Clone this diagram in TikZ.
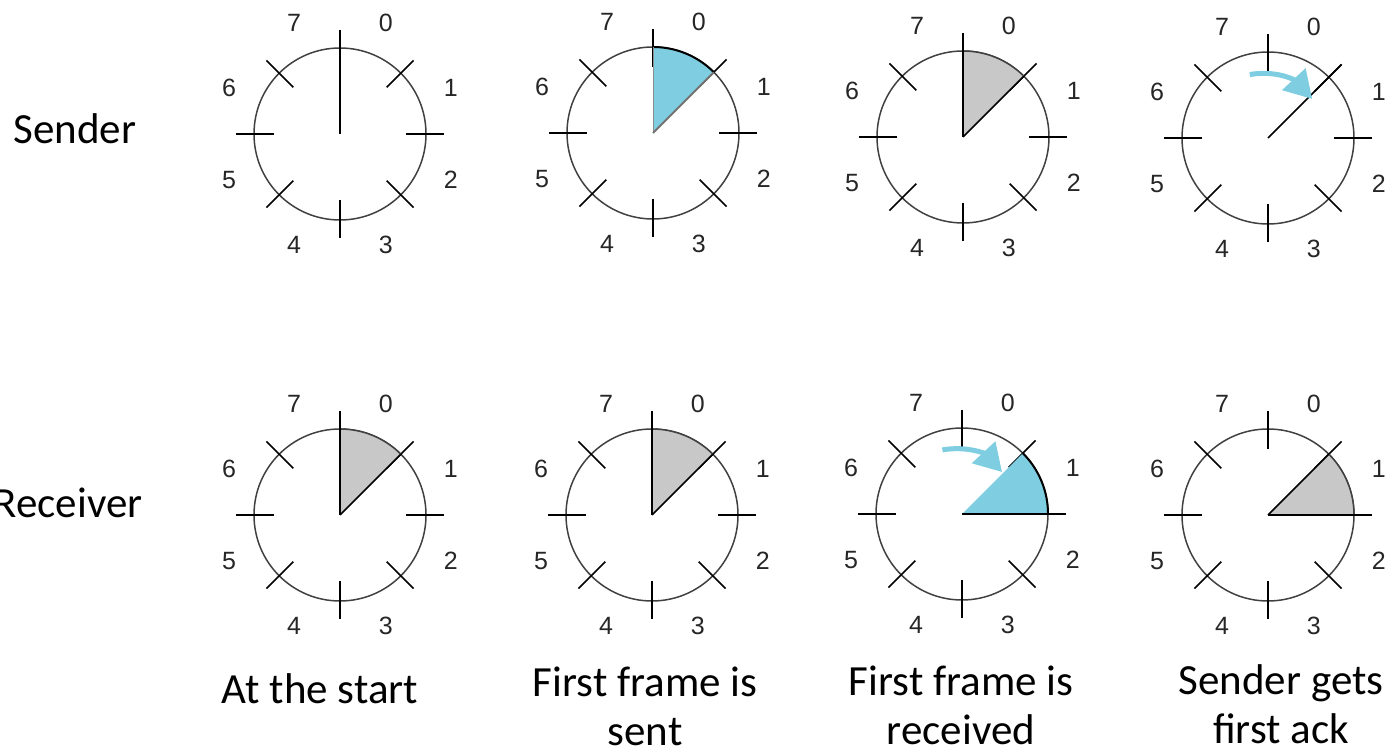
\documentclass[tikz,border=0pt]{standalone}
\usepackage{fontspec}
\setmainfont{Carlito}
\newfontfamily\digitfont{Liberation Sans}
\usetikzlibrary{calc}
\usepgflibrary{arrows.meta}
\definecolor{frameblue}{RGB}{126,205,225}
\definecolor{windowgray}{RGB}{200,200,200}

\begin{document}
\begin{tikzpicture}
    [x=1pt, y=1pt,
    ring/.style={circle, draw=black!75, line width=1.5pt, minimum size=172pt, inner sep=0pt},
    tick/.style={line width=1.5pt, black},
    edge/.style={line width=1.5pt, black},
    digit/.style={inner sep=0pt, font=\digitfont\fontsize{25}{30}\selectfont, text=black!85},
    caption/.style={font=\fontsize{43}{49}\selectfont, align=center, anchor=base},
    slide/.style={line width=5pt, frameblue, -{Triangle[length=27pt, width=31pt]}}]

    \useasboundingbox (0,0) rectangle (1390,752);

    %% dial centres
    \coordinate (S1) at (340,618);
    \coordinate (S2) at (653,619);
    \coordinate (S3) at (963,615);
    \coordinate (S4) at (1268,614);
    \coordinate (R1) at (340,237);
    \coordinate (R2) at (652,237);
    \coordinate (R3) at (962,238);
    \coordinate (R4) at (1268,237);

    %% rings, ticks and sequence numbers
    \foreach \c in {S1,S2,S3,S4,R1,R2,R3,R4} {
        \node[ring] (\c-ring) at (\c) {};
        \foreach \a in {0,45,...,315}
            \draw[tick] ($(\c)+(\a:66)$) -- ($(\c)+(\a:104)$);
        \foreach \a/\n in {67.5/0, 22.5/1, -22.5/2, -67.5/3, -112.5/4, -157.5/5, 157.5/6, 112.5/7}
            \node[digit] (\c-\n) at ($(\c)+(\a:120)$) {\n};
    }

    %% Sender: at the start
    \draw[edge] (S1) -- ($(S1)+(90:104)$);

    %% Sender: first frame is sent
    \fill[frameblue] (S2) -- ($(S2)+(90:86)$) arc[start angle=90, end angle=45, radius=86] -- cycle;
    \draw[line width=2pt] ($(S2)+(90:86)$) arc[start angle=90, end angle=45, radius=86];
    \draw[line width=0.6pt, black!45] (S2) -- ($(S2)+(90:86)$);
    \draw[line width=1.8pt, black!55] (S2) -- ($(S2)+(45:86)$);

    %% Sender: first frame is received
    \fill[windowgray] (S3) -- ($(S3)+(90:86)$) arc[start angle=90, end angle=45, radius=86] -- cycle;
    \draw[line width=1.5pt, black!75] ($(S3)+(90:86)$) arc[start angle=90, end angle=45, radius=86];
    \draw[edge] (S3) -- ($(S3)+(90:104)$);
    \draw[edge] (S3) -- ($(S3)+(45:86)$);

    %% Sender: first ack
    \draw[edge] (S4) -- ($(S4)+(45:104)$);
    \coordinate (S4-from) at ($(S4)+(106:66)$);
    \coordinate (S4-to) at ($(S4)+(41.5:59)$);
    \draw[slide] (S4-from) to[out=10, in=133] (S4-to);

    %% Receiver: at the start and first frame sent
    \foreach \c in {R1,R2} {
        \fill[windowgray] (\c) -- ($(\c)+(90:86)$) arc[start angle=90, end angle=45, radius=86] -- cycle;
        \draw[line width=1.5pt, black!75] ($(\c)+(90:86)$) arc[start angle=90, end angle=45, radius=86];
        \draw[edge] (\c) -- ($(\c)+(90:104)$);
        \draw[edge] (\c) -- ($(\c)+(45:86)$);
    }

    %% Receiver: first frame is received
    \fill[frameblue] (R3) -- ($(R3)+(45:86)$) arc[start angle=45, end angle=0, radius=86] -- cycle;
    \draw[line width=2pt] ($(R3)+(45:86)$) arc[start angle=45, end angle=0, radius=86];
    \draw[edge] (R3) -- ($(R3)+(0:104)$);
    \coordinate (R3-from) at ($(R3)+(107:67)$);
    \coordinate (R3-to) at ($(R3)+(46.4:58)$);
    \draw[slide] (R3-from) to[out=10, in=133] (R3-to);

    %% Receiver: first ack
    \fill[windowgray] (R4) -- ($(R4)+(45:86)$) arc[start angle=45, end angle=0, radius=86] -- cycle;
    \draw[line width=1.5pt, black!75] ($(R4)+(45:86)$) arc[start angle=45, end angle=0, radius=86];
    \draw[edge] (R4) -- ($(R4)+(0:104)$);
    \draw[edge] (R4) -- ($(R4)+(45:86)$);

    %% row and column captions
    \node[caption] (sender) at (75,608) {Sender};
    \node[caption] (receiver) at (68,234) {Receiver};
    \node[caption] (start) at (320,48) {At the start};
    \node[caption] (sent) at (645,6) {First frame is\\sent};
    \node[caption] (received) at (961,7) {First frame is\\received};
    \node[caption] (ack) at (1281,8) {Sender gets\\first ack};
\end{tikzpicture}
\end{document}
